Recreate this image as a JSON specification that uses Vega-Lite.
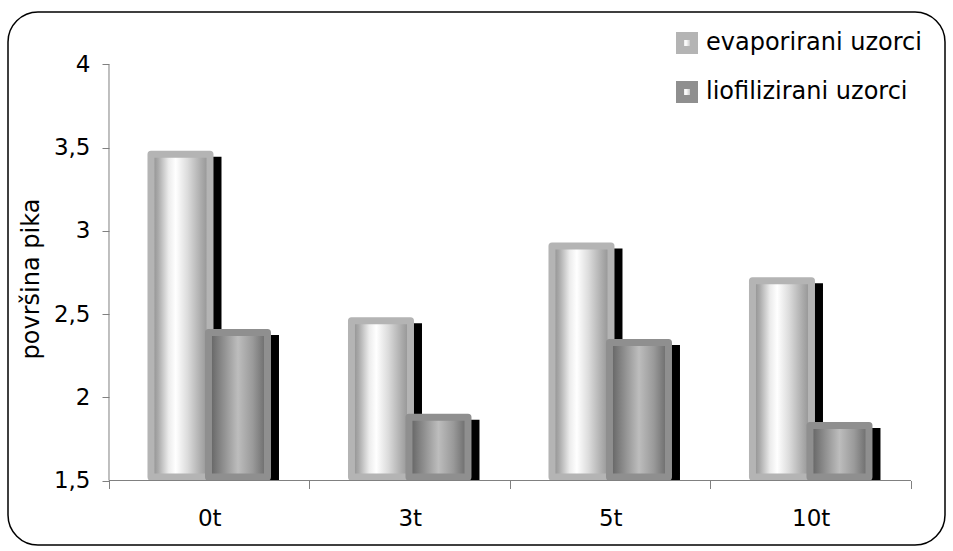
{
  "$schema": "https://vega.github.io/schema/vega-lite/v6.json",
  "width": 937,
  "height": 533,
  "autosize": {"type": "none"},
  "padding": {"left": 8, "top": 12, "right": 8, "bottom": 6},
  "background": "white",
  "config": {
    "font": "DejaVu Sans",
    "view": {"stroke": "black", "strokeWidth": 1.5, "cornerRadius": 30}
  },
  "data": {
    "values": [
      {"cat": "0t", "series": "evaporirani uzorci", "value": 3.46},
      {"cat": "0t", "series": "liofilizirani uzorci", "value": 2.39},
      {"cat": "3t", "series": "evaporirani uzorci", "value": 2.46},
      {"cat": "3t", "series": "liofilizirani uzorci", "value": 1.88},
      {"cat": "5t", "series": "evaporirani uzorci", "value": 2.91},
      {"cat": "5t", "series": "liofilizirani uzorci", "value": 2.33},
      {"cat": "10t", "series": "evaporirani uzorci", "value": 2.70},
      {"cat": "10t", "series": "liofilizirani uzorci", "value": 1.83}
    ]
  },
  "encoding": {
    "x": {
      "field": "cat",
      "type": "nominal",
      "sort": ["0t", "3t", "5t", "10t"],
      "scale": {"type": "band", "domain": ["0t", "3t", "5t", "10t"], "paddingInner": 0, "paddingOuter": 0.3367, "align": 0.748},
      "axis": {
        "orient": "bottom",
        "offset": -64.5,
        "domain": false,
        "grid": false,
        "title": null,
        "tickBand": "extent",
        "tickSize": 8,
        "tickColor": "#808080",
        "labelAngle": 0,
        "labelFontSize": 23,
        "labelColor": "black",
        "labelPadding": 19
      }
    },
    "y": {
      "field": "value",
      "type": "quantitative",
      "scale": {"domain": [1.1124, 4.3155], "nice": false, "zero": false},
      "axis": {
        "orient": "left",
        "offset": -101,
        "domain": false,
        "grid": false,
        "values": [1.5, 2, 2.5, 3, 3.5, 4],
        "format": ".1~f",
        "labelExpr": "replace(datum.label, '.', ',')",
        "tickSize": 7,
        "tickColor": "#808080",
        "labelFontSize": 23,
        "labelColor": "black",
        "labelPadding": 12,
        "title": "površina pika",
        "titleFontSize": 24,
        "titleFontWeight": "normal",
        "titleColor": "black",
        "titlePadding": 10
      }
    }
  },
  "layer": [
    {
      "mark": {"type": "bar", "color": "black", "stroke": "black", "strokeWidth": 7, "width": 59, "yOffset": 6, "y2Offset": -3.5},
      "encoding": {
        "y2": {"datum": 1.5},
        "xOffset": {
          "field": "series",
          "type": "nominal",
          "scale": {"domain": ["evaporirani uzorci", "liofilizirani uzorci"], "paddingInner": 0, "paddingOuter": 0.7435, "align": 0.5936}
        }
      }
    },
    {
      "encoding": {
        "y2": {"datum": 1.5},
        "xOffset": {
          "field": "series",
          "type": "nominal",
          "scale": {"domain": ["evaporirani uzorci", "liofilizirani uzorci"], "paddingInner": 0, "paddingOuter": 0.7435}
        }
      },
      "layer": [
        {
          "transform": [{"filter": "datum.series === 'evaporirani uzorci'"}],
          "mark": {
            "type": "bar",
            "width": 59,
            "strokeWidth": 7,
            "strokeJoin": "round",
            "y2Offset": -3.5,
            "fill": {
              "gradient": "linear", "x1": 0, "y1": 0, "x2": 1, "y2": 0,
              "stops": [
                {"offset": 0, "color": "#888888"},
                {"offset": 0.12, "color": "#a9a9a9"},
                {"offset": 0.3, "color": "#ececec"},
                {"offset": 0.42, "color": "#ffffff"},
                {"offset": 0.62, "color": "#dcdcdc"},
                {"offset": 0.85, "color": "#ababab"},
                {"offset": 1, "color": "#8e8e8e"}
              ]
            }
          },
          "encoding": {
            "stroke": {
              "field": "series",
              "type": "nominal",
              "scale": {"domain": ["evaporirani uzorci", "liofilizirani uzorci"], "range": ["#b4b4b4", "#8f8f8f"]},
              "legend": {
                "orient": "none",
                "legendX": 667,
                "legendY": 19,
                "title": null,
                "padding": 0,
                "symbolType": "square",
                "symbolSize": 196,
                "symbolStrokeWidth": 8,
                "labelFontSize": 24,
                "labelColor": "black",
                "labelOffset": 7,
                "rowPadding": 3,
                "labelLimit": 400,
                "encode": {
                  "symbols": {
                    "update": {
                      "fill": {"signal": "datum.value === 'evaporirani uzorci' ? '#ececec' : '#b8b8b8'"},
                      "fillOpacity": {"value": 1},
                      "strokeJoin": {"value": "round"}
                    }
                  }
                }
              }
            }
          }
        },
        {
          "transform": [{"filter": "datum.series === 'liofilizirani uzorci'"}],
          "mark": {
            "type": "bar",
            "width": 59,
            "strokeWidth": 7,
            "strokeJoin": "round",
            "y2Offset": -3.5,
            "fill": {
              "gradient": "linear", "x1": 0, "y1": 0, "x2": 1, "y2": 0,
              "stops": [
                {"offset": 0, "color": "#5e5e5e"},
                {"offset": 0.2, "color": "#858585"},
                {"offset": 0.5, "color": "#bdbdbd"},
                {"offset": 0.75, "color": "#9a9a9a"},
                {"offset": 1, "color": "#666666"}
              ]
            }
          },
          "encoding": {
            "stroke": {"field": "series", "type": "nominal"}
          }
        }
      ]
    },
    {
      "data": {"values": [{"cat": "0t", "lo": 1.5, "hi": 4}]},
      "mark": {"type": "rule", "color": "#808080", "strokeWidth": 1},
      "encoding": {
        "x": {"field": "cat", "type": "nominal", "bandPosition": 0},
        "y": {"field": "lo", "type": "quantitative"},
        "y2": {"field": "hi"}
      }
    },
    {
      "data": {"values": [{"from": "0t", "to": "10t", "lo": 1.5}]},
      "mark": {"type": "rule", "color": "#808080", "strokeWidth": 1},
      "encoding": {
        "x": {"field": "from", "type": "nominal", "bandPosition": 0},
        "x2": {"field": "to", "bandPosition": 1},
        "y": {"field": "lo", "type": "quantitative"}
      }
    }
  ],
  "resolve": {"scale": {"xOffset": "independent"}}
}
